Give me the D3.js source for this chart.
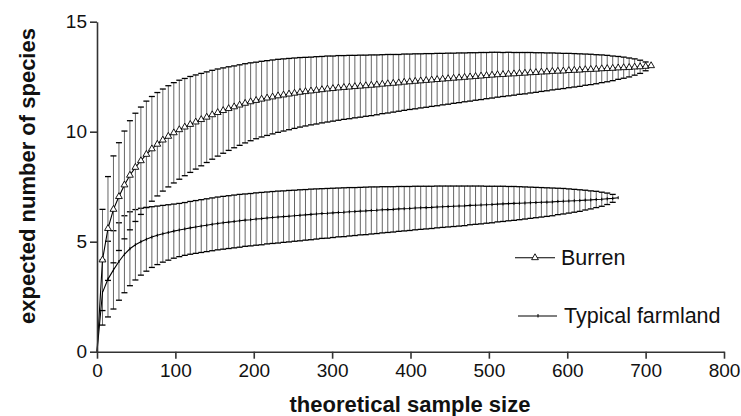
<!DOCTYPE html>
<html><head><meta charset="utf-8">
<script src="https://cdnjs.cloudflare.com/ajax/libs/d3/7.8.5/d3.min.js"></script>
<style>
html,body{margin:0;padding:0;background:#fff;}
svg{display:block;font-family:"Liberation Sans",Arial,Helvetica,sans-serif;}
</style></head>
<body>
<svg id="chart" width="741" height="416"></svg>
<script>
// ---------- data ----------
const burrenSize = [0,7,14,21,28,35,42,49,56,63,70,77,84,91,98,105,112,119,126,133,140,
147,154,161,168,175,182,189,196,203,210,217,224,231,238,245,252,259,266,273,280,287,294,301,308,315,322,329,336,343,350,
357,364,371,378,385,392,399,406,413,420,427,434,441,448,455,462,469,476,483,490,497,504,
511,518,525,532,539,546,553,560,567,574,581,588,595,602,609,616,623,630,637,644,651,658,665,672,679,686,693,700,707];
const burrenMean = [0,4.17,5.60,6.47,7.05,7.58,8.02,8.38,8.68,8.97,9.22,9.43,9.62,9.79,9.95,
10.09,10.21,10.33,10.44,10.55,10.66,
10.77,10.87,10.96,11.05,11.13,11.21,11.29,11.36,11.42,11.48,11.53,11.58,11.63,11.67,11.71,11.75,11.79,11.82,11.85,11.88,11.91,11.94,11.96,11.99,12.01,12.03,12.05,12.07,12.09,12.11,
12.13,12.16,12.18,12.20,12.22,12.25,12.27,12.29,12.31,12.33,12.35,12.37,12.39,12.41,12.43,12.45,12.47,12.49,12.51,12.53,12.55,12.57,
12.59,12.60,12.62,12.63,12.65,12.66,12.68,12.69,12.71,12.72,12.74,12.75,12.76,12.78,12.79,12.80,12.82,12.83,12.84,12.86,12.87,12.88,12.90,12.91,12.92,12.94,12.95,12.97,13.00];
const burrenSD = [0,2.30,2.36,2.43,2.45,2.45,2.48,2.46,2.44,2.42,2.38,2.35,2.32,2.30,2.28,
2.25,2.21,2.18,2.14,2.10,2.06,
2.02,1.98,1.94,1.90,1.86,1.83,1.80,1.77,1.74,1.72,1.70,1.68,1.66,1.64,1.62,1.60,1.58,1.56,1.54,1.53,1.51,1.50,1.48,1.47,1.45,1.44,1.42,1.41,1.39,1.38,
1.36,1.34,1.33,1.31,1.29,1.28,1.26,1.25,1.23,1.22,1.20,1.19,1.17,1.16,1.14,1.13,1.11,1.10,1.08,1.07,1.05,1.04,
1.02,1.00,0.99,0.97,0.95,0.94,0.92,0.90,0.88,0.86,0.84,0.82,0.80,0.78,0.76,0.74,0.71,0.69,0.66,0.63,0.60,0.56,0.52,0.48,0.43,0.37,0.30,0.20,0.00];

const farmSize = [0,7,14,21,28,35,42,49,56,63,70,77,84,91,98,105,112,119,126,133,140,
147,154,161,168,175,182,189,196,203,210,217,224,231,238,245,252,259,266,273,280,287,294,301,308,315,322,329,336,343,350,
357,364,371,378,385,392,399,406,413,420,427,434,441,448,455,462,469,476,483,490,497,504,
511,518,525,532,539,546,553,560,567,574,581,588,595,602,609,616,623,630,637,644,651,658,665];
const farmMean = [0,2.69,3.30,3.72,4.10,4.43,4.68,4.86,5.00,5.11,5.21,5.29,5.36,5.42,5.48,
5.53,5.58,5.63,5.67,5.71,5.75,
5.79,5.83,5.86,5.89,5.92,5.95,5.98,6.00,6.03,6.05,6.08,6.10,6.12,6.14,6.16,6.18,6.20,6.22,6.24,6.26,6.28,6.29,6.31,6.33,6.34,6.36,6.37,6.39,6.40,6.42,
6.43,6.45,6.46,6.47,6.49,6.50,6.51,6.53,6.54,6.55,6.56,6.58,6.59,6.60,6.61,6.62,6.63,6.65,6.66,6.67,6.68,6.69,
6.71,6.72,6.73,6.74,6.75,6.76,6.77,6.78,6.79,6.80,6.81,6.83,6.84,6.85,6.86,6.87,6.89,6.90,6.92,6.93,6.95,6.97,7.00];
const farmSD = [0,1.48,1.72,1.78,1.76,1.75,1.68,1.60,1.52,1.45,1.38,1.33,1.29,1.26,1.23,
1.21,1.20,1.20,1.20,1.20,1.20,
1.20,1.20,1.20,1.20,1.20,1.20,1.19,1.19,1.19,1.19,1.18,1.18,1.18,1.17,1.17,1.16,1.16,1.15,1.15,1.14,1.13,1.13,1.12,1.11,1.11,1.10,1.09,1.08,1.08,1.07,
1.06,1.05,1.04,1.03,1.02,1.01,1.00,0.99,0.98,0.97,0.96,0.95,0.94,0.93,0.92,0.91,0.90,0.88,0.87,0.86,0.84,0.83,
0.81,0.80,0.78,0.77,0.75,0.73,0.71,0.69,0.67,0.65,0.63,0.60,0.58,0.55,0.52,0.49,0.45,0.41,0.37,0.32,0.26,0.18,0.00];

const xTicks = [0,100,200,300,400,500,600,700,800];
const yTicks = [0,5,10,15];
const seriesNames = ["Burren","Typical farmland"];
const xTitle = "theoretical sample size";
const yTitle = "expected number of species";

// ---------- chart ----------
const svg = d3.select("#chart");
const x = d3.scaleLinear().domain([0,800]).range([97,724]);
const y = d3.scaleLinear().domain([0,15]).range([351.7,21.7]);
const axisColor = "#333";

function toRows(sz, mn, sd){ return sz.map((s,i)=>({x:s, m:mn[i], sd:sd[i]})); }
const burren = toRows(burrenSize, burrenMean, burrenSD);
const farm = toRows(farmSize, farmMean, farmSD);

function errorBars(rows, cls){
  const g = svg.append("g").attr("class", cls);
  const rs = rows.filter(d=>d.sd>0);
  g.selectAll("line.stem").data(rs).join("line").attr("class","stem")
    .attr("x1",d=>x(d.x)).attr("x2",d=>x(d.x))
    .attr("y1",d=>y(d.m+d.sd)).attr("y2",d=>y(d.m-d.sd))
    .attr("stroke","#666").attr("stroke-width",1);
  const cw = 3;
  ["hi","lo"].forEach(k=>{
    g.selectAll("line.cap"+k).data(rs).join("line").attr("class","cap"+k)
      .attr("x1",d=>x(d.x)-cw).attr("x2",d=>x(d.x)+cw)
      .attr("y1",d=>y(k==="hi"?d.m+d.sd:d.m-d.sd)).attr("y2",d=>y(k==="hi"?d.m+d.sd:d.m-d.sd))
      .attr("stroke","#000").attr("stroke-width",1.3);
  });
}
errorBars(farm,"farmBars");
errorBars(burren,"burrenBars");

const line = d3.line().x(d=>x(d.x)).y(d=>y(d.m));
svg.append("path").datum(farm).attr("d",line).attr("fill","none").attr("stroke","#000").attr("stroke-width",1.1);
svg.append("path").datum(burren).attr("d",line).attr("fill","none").attr("stroke","#000").attr("stroke-width",1.1);

// farmland tick markers
svg.append("g").selectAll("line").data(farm.slice(1)).join("line")
  .attr("x1",d=>x(d.x)).attr("x2",d=>x(d.x)).attr("y1",d=>y(d.m)-1.5).attr("y2",d=>y(d.m)+1.5)
  .attr("stroke","#000").attr("stroke-width",1);

// Burren triangle markers
const tri = d3.symbol().type(d3.symbolTriangle).size(20);
svg.append("g").selectAll("path").data(burren.slice(1)).join("path")
  .attr("d",tri).attr("transform",d=>`translate(${x(d.x)},${y(d.m)})`)
  .attr("fill","#fff").attr("stroke","#000").attr("stroke-width",0.9);

// axes
const xAxis = d3.axisBottom(x).tickValues(xTicks).tickSize(7).tickPadding(5).tickSizeOuter(0);
const gx = svg.append("g").attr("transform",`translate(0,${y(0)})`).call(xAxis);
const yAxis = d3.axisLeft(y).tickValues(yTicks).tickSize(7).tickPadding(3).tickSizeOuter(0);
const gy = svg.append("g").attr("transform",`translate(${x(0)},0)`).call(yAxis);
[gx,gy].forEach(g=>{
  g.select(".domain").attr("stroke",axisColor).attr("stroke-width",1.6);
  g.selectAll(".tick line").attr("stroke",axisColor).attr("stroke-width",1.6);
  g.selectAll(".tick text").attr("fill","#111").attr("font-size",19)
   .attr("font-family",'"Liberation Sans",Arial,sans-serif');
});

// titles
svg.append("text").attr("x",410).attr("y",412).attr("text-anchor","middle")
  .attr("font-size",22).attr("font-weight","bold").attr("fill","#111").text(xTitle);
svg.append("text").attr("transform","translate(35,176) rotate(-90)").attr("text-anchor","middle")
  .attr("font-size",22).attr("font-weight","bold").attr("fill","#111").text(yTitle);

// legend
const lg = svg.append("g");
lg.append("line").attr("x1",515).attr("x2",555).attr("y1",257.7).attr("y2",257.7).attr("stroke","#000").attr("stroke-width",1.1);
lg.append("path").attr("d",tri).attr("transform","translate(535,257.7)").attr("fill","#fff").attr("stroke","#000").attr("stroke-width",0.9);
lg.append("text").attr("x",561).attr("y",265).attr("font-size",21.5).attr("fill","#111").text(seriesNames[0]);
lg.append("line").attr("x1",518).attr("x2",557).attr("y1",316).attr("y2",316).attr("stroke","#000").attr("stroke-width",1.1);
lg.append("line").attr("x1",538).attr("x2",538).attr("y1",314).attr("y2",317.5).attr("stroke","#000").attr("stroke-width",1);
lg.append("text").attr("x",564).attr("y",323).attr("font-size",21.5).attr("fill","#111").text(seriesNames[1]);
</script>
</body></html>
